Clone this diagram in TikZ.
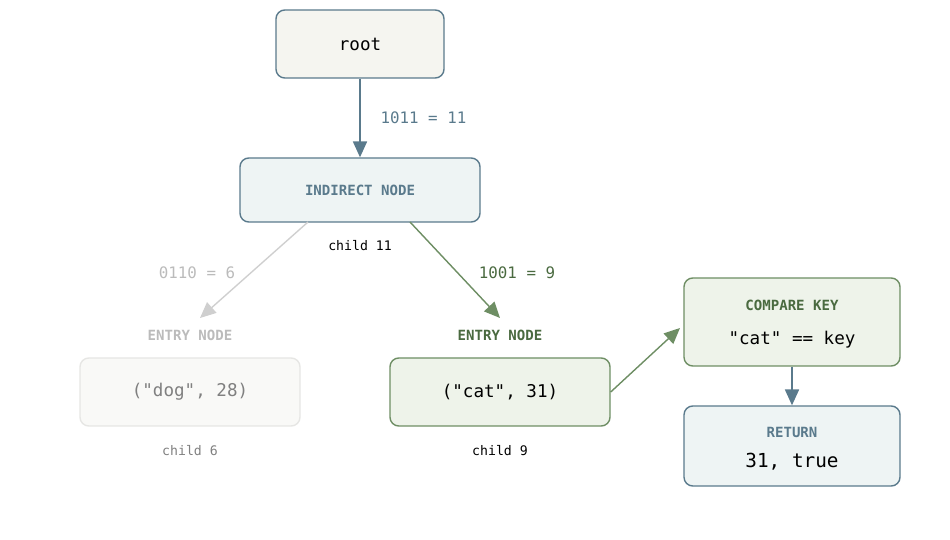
\documentclass[tikz,border=0pt]{standalone}
\usepackage{fontspec}
\setmonofont{DejaVu Sans Mono}
\usetikzlibrary{arrows.meta}
\definecolor{slate}{HTML}{5A7A8C}
\definecolor{moss}{HTML}{6E8E64}
\definecolor{mossdark}{HTML}{4A6A40}
\definecolor{fog}{HTML}{BBBBBB}
\tikzset{
  box/.style={draw=slate,thick,rounded corners=5pt,font=\ttfamily\fontsize{10}{12}\selectfont},
  Pfeil/.style={thick,-{Triangle[length=9pt,width=8pt]}},
  tag/.style={font=\ttfamily\bfseries\fontsize{8}{10}\selectfont},
  lbl/.style={font=\ttfamily\fontsize{9}{11}\selectfont},
  small/.style={font=\ttfamily\fontsize{7.5}{9}\selectfont}
}
\begin{document}
\begin{tikzpicture}[x=0.02cm,y=-0.02cm]
\useasboundingbox (0,0) rectangle (950,540);

%Knoten
\node[box,fill={rgb,255:red,245;green,245;blue,240},minimum width=168*0.02cm,minimum height=68*0.02cm] (root) at (360,44) {root};
\node[box,fill={rgb,255:red,238;green,244;blue,244},minimum width=240*0.02cm,minimum height=64*0.02cm,text=slate,font=\ttfamily\bfseries\fontsize{8}{10}\selectfont] (ind) at (360,190) {INDIRECT NODE};
\node[small] (c11) at (360,246) {child 11};

\node[tag,text=fog] (edog) at (190,335) {ENTRY NODE};
\node[box,draw={rgb,255:red,230;green,230;blue,228},fill={rgb,255:red,249;green,249;blue,247},text=gray,minimum width=220*0.02cm,minimum height=68*0.02cm] (dog) at (190,392) {("dog", 28)};
\node[small,text=gray] (c6) at (190,451) {child 6};

\node[tag,text=mossdark] (ecat) at (500,335) {ENTRY NODE};
\node[box,draw=moss,fill={rgb,255:red,238;green,243;blue,234},minimum width=220*0.02cm,minimum height=68*0.02cm] (cat) at (500,392) {("cat", 31)};
\node[small] (c9) at (500,451) {child 9};

\node[box,draw=moss,fill={rgb,255:red,238;green,243;blue,234},minimum width=216*0.02cm,minimum height=88*0.02cm] (cmp) at (792,322) {};
\node[tag,text=mossdark] (cmpt) at (792,305) {COMPARE KEY};
\node[box,draw=none] (cmpb) at (792,340) {"cat" == key};

\node[box,fill={rgb,255:red,238;green,244;blue,244},minimum width=216*0.02cm,minimum height=80*0.02cm] (ret) at (792,446) {};
\node[tag,text=slate] (rett) at (792,432) {RETURN};
\node[box,draw=none,font=\ttfamily\fontsize{11}{13}\selectfont] (retb) at (792,462) {31, true};

%Pfeile
\draw[Pfeil,slate] (root) -- (ind) node[midway,right=8pt,lbl]{1011 = 11};
\coordinate (gA) at (308,222); \coordinate (gB) at (200,318);
\draw[Pfeil,fog!70] (gA) -- (gB);
\node[lbl,text=fog] (lg) at (197,273) {0110 = 6};
\coordinate (mA) at (410,222); \coordinate (mB) at (500,318);
\draw[Pfeil,moss] (mA) -- (mB);
\node[lbl,text=mossdark] (lm) at (517,273) {1001 = 9};
\coordinate (kB) at (680,328);
\draw[Pfeil,moss] (cat.east) -- (kB);
\draw[Pfeil,slate] (cmp.south) -- (ret.north);
\end{tikzpicture}
\end{document}
